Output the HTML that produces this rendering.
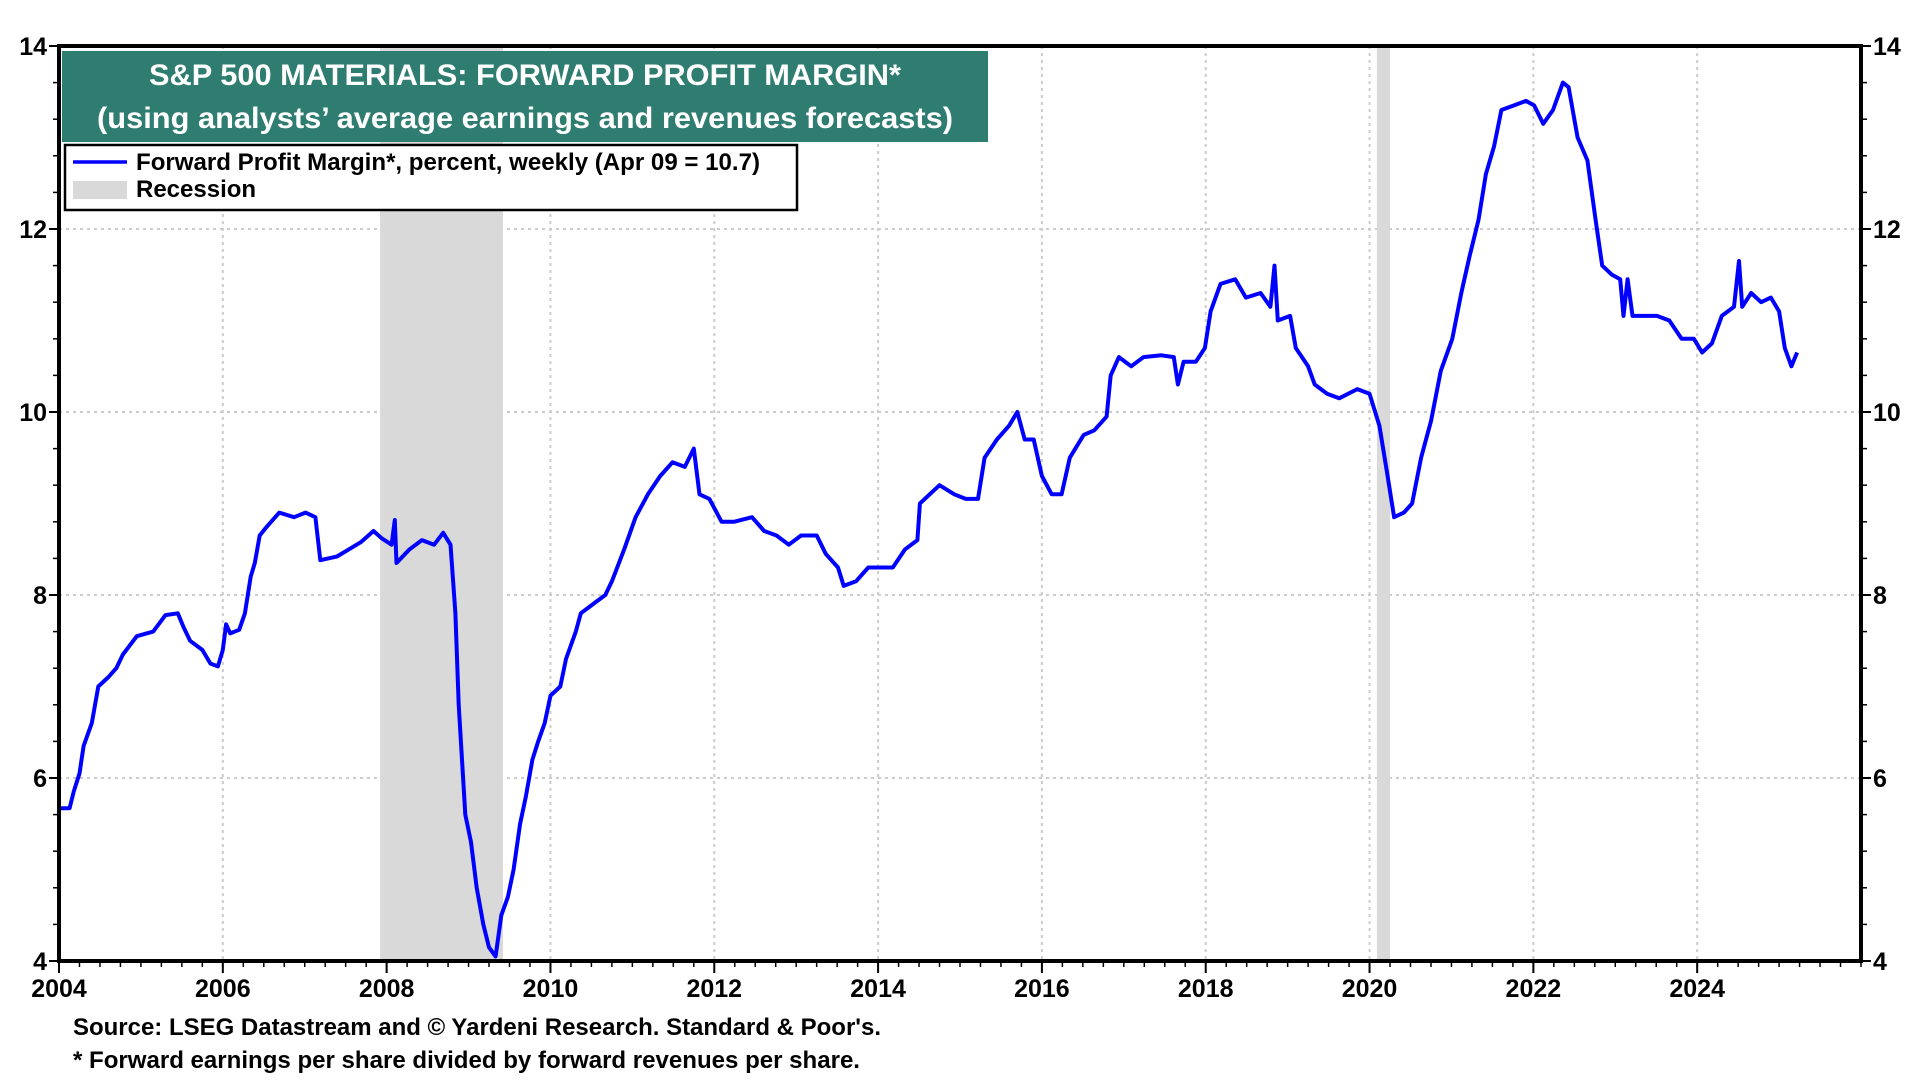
<!DOCTYPE html>
<html><head><meta charset="utf-8">
<style>
body{margin:0;background:#fff;}
svg{display:block;font-family:"Liberation Sans",Arial,sans-serif;font-weight:bold;}
</style></head>
<body>
<svg id="chart" width="1920" height="1080" viewBox="0 0 1920 1080" xmlns="http://www.w3.org/2000/svg">
<g id="grid"></g>
<g id="recessions"></g>
<g id="series"></g>
<g id="axes"></g>
<g>
<rect x="62" y="51" width="926" height="91" fill="#2e7d70"/>
<text x="525" y="85" text-anchor="middle" fill="#fff" font-size="30" textLength="752" lengthAdjust="spacingAndGlyphs">S&amp;P 500 MATERIALS: FORWARD PROFIT MARGIN*</text>
<text x="525" y="128" text-anchor="middle" fill="#fff" font-size="30" textLength="856" lengthAdjust="spacingAndGlyphs">(using analysts’ average earnings and revenues forecasts)</text>
</g>
<g>
<rect x="65" y="145" width="732" height="65" fill="#fff" stroke="#000" stroke-width="2.5"/>
<line x1="73" y1="162" x2="127" y2="162" stroke="#0000ff" stroke-width="3.5"/>
<text x="136" y="170" font-size="24" textLength="624" lengthAdjust="spacingAndGlyphs">Forward Profit Margin*, percent, weekly (Apr 09 = 10.7)</text>
<rect x="73" y="181" width="54" height="18" fill="#d9d9d9"/>
<text x="136" y="197" font-size="24">Recession</text>
</g>
<text x="73" y="1035" font-size="24" textLength="808" lengthAdjust="spacingAndGlyphs">Source: LSEG Datastream and © Yardeni Research. Standard &amp; Poor's.</text>
<text x="73" y="1068" font-size="24" textLength="787" lengthAdjust="spacingAndGlyphs">* Forward earnings per share divided by forward revenues per share.</text>
</svg>
<script>
const years=[2004,2004.13,2004.18,2004.25,2004.3,2004.4,2004.48,2004.6,2004.7,2004.78,2004.95,2005.15,2005.3,2005.45,2005.52,2005.6,2005.75,2005.85,2005.94,2006.0,2006.04,2006.09,2006.2,2006.27,2006.34,2006.39,2006.45,2006.54,2006.69,2006.87,2007.01,2007.13,2007.19,2007.39,2007.54,2007.69,2007.84,2007.94,2008.06,2008.1,2008.12,2008.28,2008.43,2008.58,2008.69,2008.78,2008.84,2008.88,2008.96,2009.03,2009.1,2009.18,2009.25,2009.33,2009.4,2009.48,2009.55,2009.63,2009.7,2009.78,2009.85,2009.93,2010.0,2010.12,2010.19,2010.31,2010.37,2010.52,2010.67,2010.75,2010.9,2011.04,2011.19,2011.34,2011.49,2011.64,2011.75,2011.82,2011.94,2012.09,2012.24,2012.46,2012.61,2012.76,2012.91,2013.06,2013.25,2013.36,2013.51,2013.58,2013.73,2013.88,2014.03,2014.18,2014.33,2014.48,2014.51,2014.63,2014.75,2014.93,2015.07,2015.22,2015.3,2015.45,2015.6,2015.7,2015.79,2015.9,2016.0,2016.12,2016.24,2016.34,2016.51,2016.64,2016.79,2016.84,2016.94,2017.09,2017.24,2017.46,2017.61,2017.66,2017.73,2017.88,2017.99,2018.06,2018.18,2018.36,2018.49,2018.67,2018.79,2018.84,2018.88,2019.03,2019.1,2019.25,2019.33,2019.48,2019.63,2019.85,2020.0,2020.12,2020.22,2020.3,2020.42,2020.52,2020.63,2020.75,2020.87,2021.01,2021.12,2021.22,2021.33,2021.42,2021.52,2021.61,2021.76,2021.91,2022.01,2022.12,2022.24,2022.36,2022.43,2022.54,2022.66,2022.76,2022.84,2022.96,2023.06,2023.1,2023.15,2023.21,2023.36,2023.51,2023.66,2023.81,2023.96,2024.06,2024.18,2024.3,2024.45,2024.51,2024.55,2024.66,2024.78,2024.9,2025.0,2025.07,2025.15,2025.22];
const margins=[5.67,5.67,5.85,6.05,6.35,6.6,7.0,7.1,7.2,7.35,7.55,7.6,7.78,7.8,7.65,7.5,7.4,7.25,7.22,7.4,7.68,7.58,7.62,7.8,8.2,8.35,8.65,8.75,8.9,8.85,8.9,8.85,8.38,8.42,8.5,8.58,8.7,8.62,8.55,8.82,8.35,8.5,8.6,8.55,8.68,8.55,7.8,6.8,5.6,5.3,4.8,4.4,4.15,4.05,4.5,4.7,5.0,5.5,5.8,6.2,6.4,6.6,6.9,7.0,7.3,7.6,7.8,7.9,8.0,8.15,8.5,8.85,9.1,9.3,9.45,9.4,9.6,9.1,9.05,8.8,8.8,8.85,8.7,8.65,8.55,8.65,8.65,8.45,8.3,8.1,8.15,8.3,8.3,8.3,8.5,8.6,9.0,9.1,9.2,9.1,9.05,9.05,9.5,9.7,9.85,10.0,9.7,9.7,9.3,9.1,9.1,9.5,9.75,9.8,9.95,10.4,10.6,10.5,10.6,10.62,10.6,10.3,10.55,10.55,10.7,11.1,11.4,11.45,11.25,11.3,11.15,11.6,11.0,11.05,10.7,10.5,10.3,10.2,10.15,10.25,10.2,9.85,9.3,8.85,8.9,9.0,9.5,9.9,10.45,10.8,11.3,11.7,12.1,12.6,12.9,13.3,13.35,13.4,13.35,13.15,13.3,13.6,13.55,13.0,12.75,12.1,11.6,11.5,11.45,11.05,11.45,11.05,11.05,11.05,11.0,10.8,10.8,10.65,10.75,11.05,11.15,11.65,11.15,11.3,11.2,11.25,11.1,10.7,10.5,10.65];
const recessionStart=[2007.92,2020.09];
const recessionEnd=[2009.42,2020.25];
const yTicks=[4,6,8,10,12,14];
const xTickYears=[2004,2006,2008,2010,2012,2014,2016,2018,2020,2022,2024];

const L=59,R=1861,T=46,B=961,X0=2004,X1=2026,Y0=4,Y1=14;
const sx=v=>L+(v-X0)/(X1-X0)*(R-L);
const sy=v=>B-(v-Y0)/(Y1-Y0)*(B-T);
const NS='http://www.w3.org/2000/svg';
function mk(tag,parent,attrs){const e=document.createElementNS(NS,tag);for(const k in attrs)e.setAttribute(k,attrs[k]);parent.appendChild(e);return e;}
const grid=document.getElementById('grid'),rec=document.getElementById('recessions'),ser=document.getElementById('series'),ax=document.getElementById('axes');

xTickYears.forEach(y=>{if(y===X0)return;const g=mk('line',grid,{x1:sx(y),x2:sx(y),y1:T,y2:B,stroke:'#cccccc','stroke-width':2,'stroke-dasharray':'3,4'});

});
yTicks.forEach(v=>{if(v===Y0||v===Y1)return;const g=mk('line',grid,{x1:L,x2:R,y1:sy(v),y2:sy(v),stroke:'#cccccc','stroke-width':2,'stroke-dasharray':'3,4'});

});

recessionStart.forEach((s,i)=>{const r=mk('rect',rec,{x:sx(s),y:T,width:sx(recessionEnd[i])-sx(s),height:B-T,fill:'#d9d9d9'});

});

let d='';years.forEach((y,i)=>{d+=(i?'L':'M')+sx(y).toFixed(1)+','+sy(margins[i]).toFixed(1);});
const p=mk('path',ser,{d:d,fill:'none',stroke:'#0000ff','stroke-width':4,'stroke-linejoin':'round'});



const fr=mk('rect',ax,{x:L,y:T,width:R-L,height:B-T,fill:'none',stroke:'#000','stroke-width':4});


for(let v=Y0;v<=Y1+0.001;v+=0.4){
  mk('line',ax,{x1:L-6,x2:L,y1:sy(v),y2:sy(v),stroke:'#000','stroke-width':1.5});
  mk('line',ax,{x1:R,x2:R+6,y1:sy(v),y2:sy(v),stroke:'#000','stroke-width':1.5});
}
yTicks.forEach(v=>{
  const a=mk('text',ax,{x:L-12,y:sy(v)+9,'text-anchor':'end','font-size':25});a.textContent=v;
  
  
  const b=mk('text',ax,{x:R+12,y:sy(v)+9,'font-size':25});b.textContent=v;
  
  
  mk('line',ax,{x1:L-10,x2:L,y1:sy(v),y2:sy(v),stroke:'#000','stroke-width':2});
  mk('line',ax,{x1:R,x2:R+10,y1:sy(v),y2:sy(v),stroke:'#000','stroke-width':2});
});
for(let q=X0;q<=X1;q+=0.25){mk('line',ax,{x1:sx(q),x2:sx(q),y1:B,y2:B+6,stroke:'#000','stroke-width':1.5});}
xTickYears.forEach(y=>{
  mk('line',ax,{x1:sx(y),x2:sx(y),y1:B,y2:B+12,stroke:'#000','stroke-width':2});
  const t=mk('text',ax,{x:sx(y),y:B+36,'text-anchor':'middle','font-size':25});t.textContent=y;
  
  
});
</script>
</body></html>
